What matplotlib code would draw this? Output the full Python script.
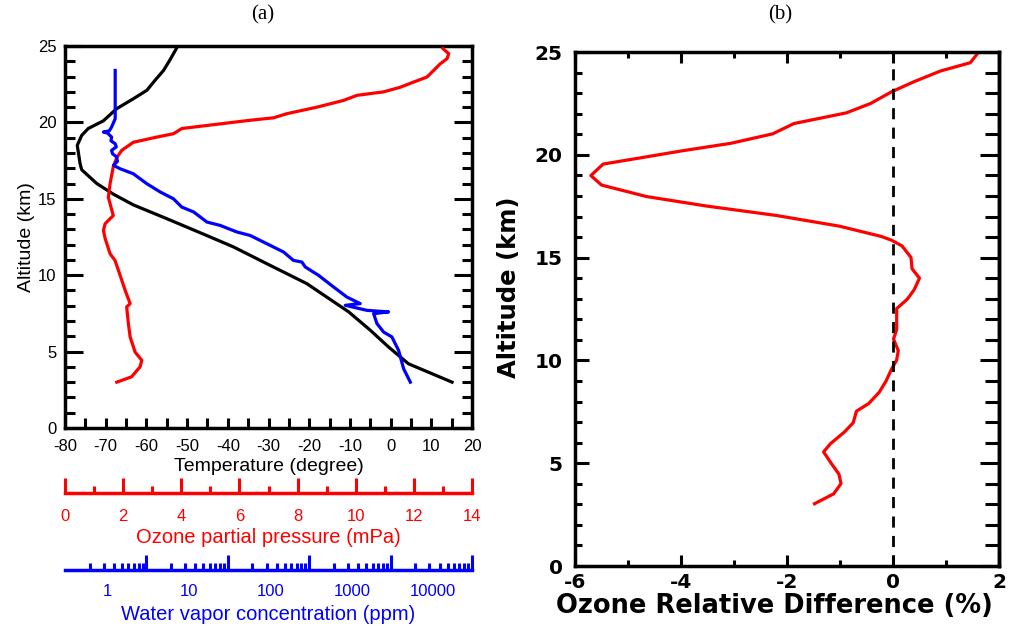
import numpy as np
import matplotlib
matplotlib.use("Agg")
import matplotlib.pyplot as plt
from matplotlib.ticker import MultipleLocator, FixedLocator, NullFormatter

plt.rcParams["axes.unicode_minus"] = False

# ---- panel (a): sonde profiles ----
temp_alt = [3.0, 4.2, 5.3, 6.4, 7.6, 9.45, 10.75, 11.85, 12.6, 13.7, 14.6, 15.3, 16.0,
            16.9, 17.3, 18.5, 19.15, 19.6, 20.1, 20.9, 21.55, 22.1, 22.75, 23.4, 24.1, 24.9]
temp = [15.1, 4.4, -0.5, -5.0, -10.3, -20.6, -30.4, -38.6, -45.2, -55.0, -63.2, -68.1, -72.2,
        -75.9, -76.3, -77.0, -75.9, -74.3, -70.6, -67.3, -63.2, -59.9, -57.9, -55.8, -54.2, -52.5]

o3_alt = [3.0, 3.35, 4.0, 4.43, 4.97, 5.96, 6.83, 7.92, 8.14, 9.0, 10.3, 10.97, 11.4, 12.4,
          12.94, 13.37, 13.7, 13.9, 14.25, 15.1, 16.0, 17.1, 17.7, 18.17, 18.7, 19.04, 19.26,
          19.6, 19.8, 20.14, 20.3, 20.57, 21.0, 21.44, 21.77, 22.0, 22.3, 22.64, 22.97, 23.4,
          23.84, 24.17, 24.5, 24.83]
o3_mpa = [1.78, 2.29, 2.58, 2.64, 2.41, 2.24, 2.18, 2.12, 2.24, 2.07, 1.84, 1.72, 1.55, 1.38,
          1.32, 1.38, 1.55, 1.66, 1.61, 1.49, 1.55, 1.66, 1.78, 1.95, 2.35, 3.16, 3.73,
          4.02, 4.88, 6.37, 7.17, 7.63, 8.67, 9.58, 10.04, 10.96, 11.53, 11.99, 12.45, 12.68,
          12.91, 13.14, 13.2, 13.0]

wv_alt = [3.0, 3.88, 5.08, 5.96, 6.28, 6.83, 7.48, 7.6, 7.7, 8.03, 8.14, 8.57, 9.23, 9.99,
          10.54, 10.86, 10.97, 11.52, 12.06, 12.6, 12.83, 13.26, 13.48, 14.14, 14.46, 15.0,
          15.45, 15.99, 16.64, 16.97, 17.19, 17.45, 17.74, 17.95, 18.17, 18.4, 18.6, 18.8,
          19.04, 19.3, 19.37, 19.45, 19.7, 20.24, 23.4]
wv_ppm = [5240, 4335, 3760, 3110, 2460, 2040, 1855, 2830, 1535, 832, 1270, 871, 597, 391,
          268, 244, 192, 145, 90.5, 56.5, 38.7, 24.1, 16.6, 11.4, 8.15, 6.44,
          4.42, 3.03, 2.07, 1.42, 1.18, 1.32, 1.29, 1.15, 1.12, 1.28, 1.24, 1.1,
          1.12, 1.0, 0.887, 1.05, 1.12, 1.24, 1.24]

temp_ticks = [-80, -70, -60, -50, -40, -30, -20, -10, 0, 10, 20]
o3_ticks = [0, 2, 4, 6, 8, 10, 12, 14]
wv_labels = [1, 10, 100, 1000, 10000]

# ---- panel (b): ozone relative difference ----
diff_alt = [3.03, 3.51, 4.01, 4.47, 4.94, 5.55, 5.95, 6.51, 6.97, 7.53, 7.9, 8.45, 9.0, 9.56,
            10.02, 10.48, 11.04, 11.5, 12.52, 12.98, 13.44, 14.0, 14.46, 15.01, 15.57, 15.85,
            16.03, 16.53, 17.05, 17.51, 17.97, 18.53, 18.99, 19.55, 19.82, 20.19, 20.56, 21.02,
            21.52, 22.04, 22.5, 23.06, 23.56, 24.08, 24.48, 24.91]
diff_pct = [-1.48, -1.12, -0.98, -1.02, -1.15, -1.31, -1.18, -0.92, -0.75, -0.69, -0.46, -0.26,
            -0.13, -0.03, 0.07, 0.10, 0.01, 0.07, 0.07, 0.27, 0.40, 0.50, 0.36, 0.34, 0.17, -0.03,
            -0.22, -1.01, -2.2, -3.52, -4.65, -5.5, -5.70, -5.47, -4.84, -3.99, -3.06, -2.27,
            -1.87, -0.88, -0.42, -0.03, 0.4, 0.9, 1.46, 1.59]

sans = "Liberation Sans"
lw = 2.3
fig = plt.figure(figsize=(10.29, 6.26), dpi=100)

# ---------- panel (a) ----------
ax = fig.add_axes([0.0632, 0.3163, 0.3955, 0.6102])
ax.plot(temp, temp_alt, color="black", lw=lw)
ax.set_xlim(-80, 20)
ax.set_ylim(0, 25)
ax.set_xticks(temp_ticks)
ax.xaxis.set_minor_locator(MultipleLocator(5))
ax.yaxis.set_major_locator(MultipleLocator(5))
ax.yaxis.set_minor_locator(MultipleLocator(1))
ax.tick_params(axis="both", which="both", direction="in", top=True, right=True,
               width=2.2, labelsize=12)
ax.tick_params(axis="x", which="both", length=7, pad=8)
ax.tick_params(axis="y", which="major", length=13, pad=6)
ax.tick_params(axis="y", which="minor", length=7)
for t in ax.get_xticklabels() + ax.get_yticklabels():
    t.set_fontfamily(sans)
for s in ax.spines.values():
    s.set_linewidth(2.5)
ax.set_xlabel("Temperature (degree)", fontsize=14, family=sans, labelpad=3)
ax.set_ylabel("Altitude (km)", fontsize=14, family=sans, labelpad=2)

# ozone axis
ax_o3 = ax.twiny()
ax_o3.plot(o3_mpa, o3_alt, color="red", lw=lw)
ax_o3.set_xlim(0, 14)
ax_o3.xaxis.set_ticks_position("bottom")
ax_o3.xaxis.set_label_position("bottom")
ax_o3.spines["bottom"].set_position(("outward", 47))
for k in ["top", "left", "right"]:
    ax_o3.spines[k].set_visible(False)
ax_o3.spines["bottom"].set_color("red")
ax_o3.spines["bottom"].set_linewidth(2.5)
ax_o3.set_xticks(o3_ticks)
ax_o3.xaxis.set_minor_locator(MultipleLocator(1))
ax_o3.tick_params(axis="x", which="both", direction="in", color="red", labelcolor="red",
                  width=2.2, labelsize=12, pad=11)
ax_o3.tick_params(axis="x", which="major", length=11)
ax_o3.tick_params(axis="x", which="minor", length=5)
for t in ax_o3.get_xticklabels():
    t.set_fontfamily(sans)
ax_o3.set_xlabel("Ozone partial pressure (mPa)", color="red", fontsize=14.5, family=sans,
                 labelpad=3)

# water vapour axis (log)
ax_wv = ax.twiny()
ax_wv.plot(wv_ppm, wv_alt, color="blue", lw=lw)
ax_wv.set_xscale("log")
ax_wv.set_xlim(0.3, 30000)
ax_wv.xaxis.set_ticks_position("bottom")
ax_wv.xaxis.set_label_position("bottom")
ax_wv.spines["bottom"].set_position(("outward", 102))
for k in ["top", "left", "right"]:
    ax_wv.spines[k].set_visible(False)
ax_wv.spines["bottom"].set_color("blue")
ax_wv.spines["bottom"].set_linewidth(2.5)
decades = [0.3, 3, 30, 300, 3000]
ax_wv.xaxis.set_major_locator(FixedLocator(decades[1:] + [30000]))
ax_wv.xaxis.set_minor_locator(FixedLocator([d * k for d in decades for k in range(2, 10)]))
ax_wv.xaxis.set_major_formatter(NullFormatter())
ax_wv.xaxis.set_minor_formatter(NullFormatter())
ax_wv.tick_params(axis="x", which="both", direction="in", color="blue", width=2.2)
ax_wv.tick_params(axis="x", which="major", length=11)
ax_wv.tick_params(axis="x", which="minor", length=5)
for v in wv_labels:
    ax_wv.annotate(str(v), xy=(v, 0), xycoords=("data", "axes fraction"),
                   xytext=(0, -112), textcoords="offset points", ha="center", va="top",
                   color="blue", fontsize=12, family=sans, annotation_clip=False)
ax_wv.set_xlabel("Water vapor concentration (ppm)", color="blue", fontsize=14.5,
                 family=sans, labelpad=22)

fig.text(263 / 1029, 1 - 15 / 626, "(a)", ha="center", va="center", fontsize=15,
         family="Liberation Serif")

# ---------- panel (b) ----------
bx = fig.add_axes([0.5588, 0.0958, 0.4120, 0.8211])
bx.plot(diff_pct, diff_alt, color="red", lw=lw)
bx.axvline(0, color="black", lw=2, ls=(0, (4, 3)))
bx.set_xlim(-6, 2)
bx.set_ylim(0, 25)
bx.xaxis.set_major_locator(MultipleLocator(2))
bx.xaxis.set_minor_locator(MultipleLocator(1))
bx.yaxis.set_major_locator(MultipleLocator(5))
bx.yaxis.set_minor_locator(MultipleLocator(1))
bx.tick_params(axis="both", which="both", direction="in", top=True, right=False, width=2.2,
               labelsize=14.5, pad=5)
bx.tick_params(axis="x", which="major", length=8)
bx.tick_params(axis="x", which="minor", length=4)
bx.tick_params(axis="y", which="major", length=10, pad=9)
bx.tick_params(axis="y", which="minor", length=5)
for t in bx.get_xticklabels() + bx.get_yticklabels():
    t.set_fontweight("bold")
for s in bx.spines.values():
    s.set_linewidth(2.5)
bx.set_xlabel("Ozone Relative Difference (%)", fontsize=18.5, fontweight="bold", labelpad=1)
bx.xaxis.label.set_x(0.47)
bx.set_ylabel("Altitude (km)", fontsize=17.5, fontweight="bold")
bx.yaxis.set_label_coords(-0.128, 0.543)

# longer ticks on the right edge
bx_r = bx.secondary_yaxis("right")
bx_r.yaxis.set_major_locator(MultipleLocator(5))
bx_r.yaxis.set_minor_locator(MultipleLocator(1))
bx_r.yaxis.set_major_formatter(NullFormatter())
bx_r.tick_params(axis="y", which="both", direction="in", width=2.2)
bx_r.tick_params(axis="y", which="major", length=14)
bx_r.tick_params(axis="y", which="minor", length=10)
bx_r.spines["right"].set_linewidth(2.5)

fig.text(780 / 1029, 1 - 15 / 626, "(b)", ha="center", va="center", fontsize=15,
         family="Liberation Serif")

fig.savefig("out.png", dpi=100)
